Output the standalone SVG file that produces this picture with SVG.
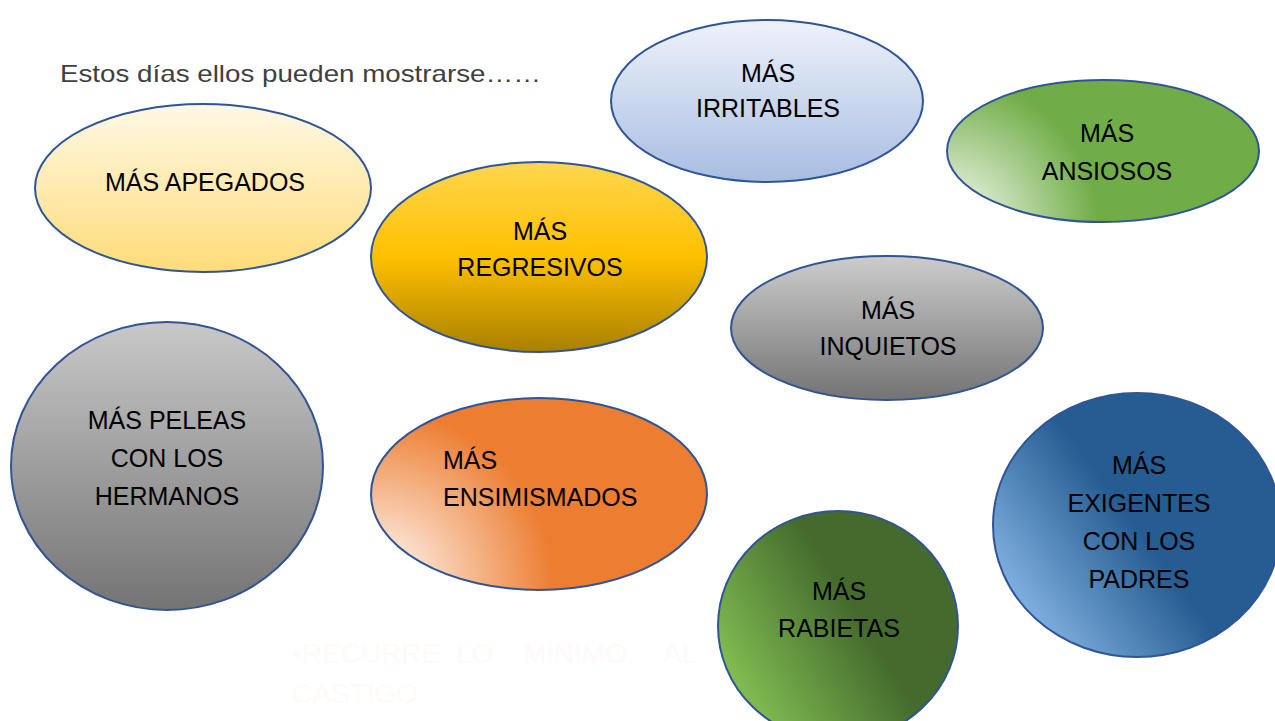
<svg xmlns="http://www.w3.org/2000/svg" width="1275" height="721" viewBox="0 0 1275 721">
<style>
.n{stroke:#2F5597;stroke-width:2}
.t{font-family:"Liberation Sans",Arial,sans-serif;font-size:25px;fill:#000;text-anchor:middle}
.tl{font-family:"Liberation Sans",Arial,sans-serif;font-size:25px;fill:#000}
.ttl{font-family:"Liberation Sans",Arial,sans-serif;font-size:24px;fill:#404040}
.faint{font-family:"Liberation Sans",Arial,sans-serif;font-size:28px;fill:#FEFAF8}
</style>
<defs>
<linearGradient id="gApe" x1="0" y1="0" x2="0" y2="1"><stop offset="0" stop-color="#FFF8E6"/><stop offset="1" stop-color="#FFDC78"/></linearGradient>
<linearGradient id="gIrr" x1="0" y1="0" x2="0" y2="1"><stop offset="0" stop-color="#EEF2FA"/><stop offset="1" stop-color="#A8BDE2"/></linearGradient>
<radialGradient id="gAns" gradientUnits="userSpaceOnUse" cx="948" cy="228" r="150"><stop offset="0" stop-color="#FFFFFF"/><stop offset="1" stop-color="#70AD47"/></radialGradient>
<linearGradient id="gReg" x1="0" y1="0" x2="0" y2="1"><stop offset="0" stop-color="#FFD64F"/><stop offset="0.5" stop-color="#FFC000"/><stop offset="1" stop-color="#A88000"/></linearGradient>
<linearGradient id="gInq" x1="0" y1="0" x2="0" y2="1"><stop offset="0" stop-color="#CCCCCC"/><stop offset="1" stop-color="#737373"/></linearGradient>
<linearGradient id="gPel" x1="0" y1="0" x2="0" y2="1"><stop offset="0" stop-color="#C8C8C8"/><stop offset="1" stop-color="#747474"/></linearGradient>
<radialGradient id="gEns" gradientUnits="userSpaceOnUse" cx="378" cy="585" r="175"><stop offset="0" stop-color="#FFFFFF"/><stop offset="1" stop-color="#ED7D31"/></radialGradient>
<linearGradient id="gRab" gradientUnits="userSpaceOnUse" x1="735" y1="705" x2="865" y2="625"><stop offset="0" stop-color="#86C354"/><stop offset="1" stop-color="#446A2D"/></linearGradient>
<linearGradient id="gExi" gradientUnits="userSpaceOnUse" x1="1020" y1="640" x2="1150" y2="545"><stop offset="0" stop-color="#8DBCEB"/><stop offset="1" stop-color="#255C91"/></linearGradient>
</defs>
<rect width="1275" height="721" fill="#FFFFFF"/>
<text class="ttl" x="60" y="82" textLength="481" lengthAdjust="spacingAndGlyphs">Estos días ellos pueden mostrarse……</text>
<g id="connectors"></g>
<g id="apegados"><ellipse class="n" cx="203" cy="188" rx="168" ry="84" fill="url(#gApe)"/><text class="t" x="205" y="191">MÁS APEGADOS</text></g>
<g id="irritables"><ellipse class="n" cx="767" cy="101" rx="156" ry="81" fill="url(#gIrr)"/><text class="t" x="768" y="82">MÁS</text><text class="t" x="768" y="117">IRRITABLES</text></g>
<g id="ansiosos"><ellipse class="n" cx="1103" cy="151" rx="156" ry="71" fill="url(#gAns)"/><text class="t" x="1107" y="142">MÁS</text><text class="t" x="1107" y="180">ANSIOSOS</text></g>
<g id="regresivos"><ellipse class="n" cx="539" cy="257" rx="168" ry="95" fill="url(#gReg)"/><text class="t" x="540" y="240">MÁS</text><text class="t" x="540" y="276">REGRESIVOS</text></g>
<g id="inquietos"><ellipse class="n" cx="887" cy="328" rx="156" ry="72" fill="url(#gInq)"/><text class="t" x="888" y="319">MÁS</text><text class="t" x="888" y="355">INQUIETOS</text></g>
<g id="peleas"><ellipse class="n" cx="167" cy="466" rx="156" ry="144" fill="url(#gPel)"/><text class="t" x="167" y="429">MÁS PELEAS</text><text class="t" x="167" y="467">CON LOS</text><text class="t" x="167" y="505">HERMANOS</text></g>
<g id="ensimismados"><ellipse class="n" cx="539" cy="494" rx="168" ry="96" fill="url(#gEns)"/><text class="tl" x="443" y="469">MÁS</text><text class="tl" x="443" y="506">ENSIMISMADOS</text></g>
<g id="rabietas"><ellipse class="n" cx="838" cy="626" rx="120" ry="115" fill="url(#gRab)"/><text class="t" x="839" y="600">MÁS</text><text class="t" x="839" y="637">RABIETAS</text></g>
<g id="exigentes"><ellipse class="n" cx="1137" cy="525" rx="144" ry="132" fill="url(#gExi)"/><text class="t" x="1139" y="474">MÁS</text><text class="t" x="1139" y="512">EXIGENTES</text><text class="t" x="1139" y="550">CON LOS</text><text class="t" x="1139" y="588">PADRES</text></g>
<g id="hidden-text"><text class="faint" x="292" y="663">•RECURRE</text><text class="faint" x="456" y="663">LO</text><text class="faint" x="523" y="663">MÍNIMO</text><text class="faint" x="663" y="663">AL</text><text class="faint" x="292" y="703">CASTIGO</text></g>
</svg>
